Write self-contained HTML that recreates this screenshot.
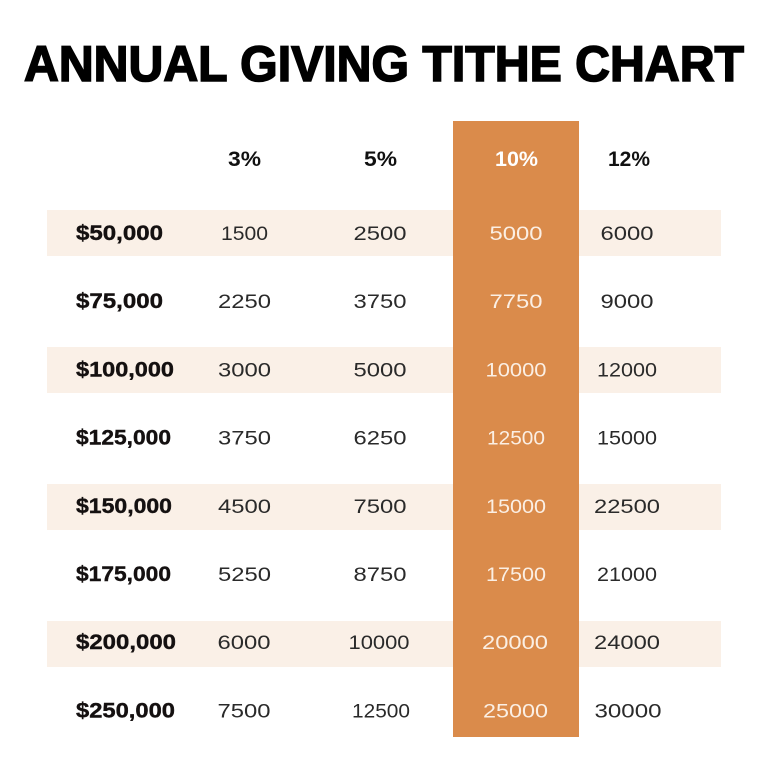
<!DOCTYPE html>
<html><head><meta charset="utf-8"><style>
html,body{margin:0;padding:0;background:#fff;}
svg{display:block;}
</style></head><body>
<svg width="768" height="768" viewBox="0 0 768 768" xmlns="http://www.w3.org/2000/svg">
<rect width="768" height="768" fill="#ffffff"/>
<text x="24" y="81" font-family="Liberation Sans, sans-serif" font-weight="bold" font-size="50" fill="#000" stroke="#000" stroke-width="1.6" textLength="720" lengthAdjust="spacingAndGlyphs">ANNUAL GIVING TITHE CHART</text>
<g fill="#FAF0E7">
<rect x="47" y="210" width="674" height="46"/>
<rect x="47" y="347" width="674" height="46"/>
<rect x="47" y="484" width="674" height="46"/>
<rect x="47" y="621" width="674" height="46"/>
</g>
<rect x="453" y="121" width="126" height="616" fill="#DA8B4B"/>
<g font-family="Liberation Sans, sans-serif" font-weight="bold" font-size="21.5" text-anchor="middle">
<text x="244.5" y="166" fill="#111" textLength="33" lengthAdjust="spacingAndGlyphs">3%</text>
<text x="380.5" y="166" fill="#111" textLength="33" lengthAdjust="spacingAndGlyphs">5%</text>
<text x="516.5" y="166" fill="#fff" textLength="43" lengthAdjust="spacingAndGlyphs">10%</text>
<text x="629" y="166" fill="#111" textLength="42" lengthAdjust="spacingAndGlyphs">12%</text>
</g>
<g font-family="Liberation Sans, sans-serif" font-weight="bold" font-size="21.5" fill="#141010" stroke="#141010" stroke-width="0.4">
<text x="76" y="240" textLength="87" lengthAdjust="spacingAndGlyphs">$50,000</text>
<text x="76" y="308.2" textLength="87" lengthAdjust="spacingAndGlyphs">$75,000</text>
<text x="76" y="376.4" textLength="98" lengthAdjust="spacingAndGlyphs">$100,000</text>
<text x="76" y="444.6" textLength="95" lengthAdjust="spacingAndGlyphs">$125,000</text>
<text x="76" y="512.8" textLength="96" lengthAdjust="spacingAndGlyphs">$150,000</text>
<text x="76" y="581" textLength="95" lengthAdjust="spacingAndGlyphs">$175,000</text>
<text x="76" y="649.2" textLength="100" lengthAdjust="spacingAndGlyphs">$200,000</text>
<text x="76" y="717.4" textLength="99" lengthAdjust="spacingAndGlyphs">$250,000</text>
</g>
<g font-family="Liberation Sans, sans-serif" font-size="19.5" fill="#2a2a2a" text-anchor="middle">
<text x="244.5" y="240" textLength="47" lengthAdjust="spacingAndGlyphs">1500</text>
<text x="380" y="240" textLength="53" lengthAdjust="spacingAndGlyphs">2500</text>
<text x="627" y="240" textLength="53" lengthAdjust="spacingAndGlyphs">6000</text>
<text x="244.5" y="308.2" textLength="53" lengthAdjust="spacingAndGlyphs">2250</text>
<text x="380" y="308.2" textLength="53" lengthAdjust="spacingAndGlyphs">3750</text>
<text x="627" y="308.2" textLength="53" lengthAdjust="spacingAndGlyphs">9000</text>
<text x="244.5" y="376.4" textLength="53" lengthAdjust="spacingAndGlyphs">3000</text>
<text x="380" y="376.4" textLength="53" lengthAdjust="spacingAndGlyphs">5000</text>
<text x="627" y="376.4" textLength="60" lengthAdjust="spacingAndGlyphs">12000</text>
<text x="244.5" y="444.6" textLength="53" lengthAdjust="spacingAndGlyphs">3750</text>
<text x="380" y="444.6" textLength="53" lengthAdjust="spacingAndGlyphs">6250</text>
<text x="627" y="444.6" textLength="60" lengthAdjust="spacingAndGlyphs">15000</text>
<text x="244.5" y="512.8" textLength="53" lengthAdjust="spacingAndGlyphs">4500</text>
<text x="380" y="512.8" textLength="53" lengthAdjust="spacingAndGlyphs">7500</text>
<text x="627" y="512.8" textLength="66" lengthAdjust="spacingAndGlyphs">22500</text>
<text x="244.5" y="581" textLength="53" lengthAdjust="spacingAndGlyphs">5250</text>
<text x="380" y="581" textLength="53" lengthAdjust="spacingAndGlyphs">8750</text>
<text x="627" y="581" textLength="60" lengthAdjust="spacingAndGlyphs">21000</text>
<text x="244" y="649.2" textLength="53" lengthAdjust="spacingAndGlyphs">6000</text>
<text x="379" y="649.2" textLength="61" lengthAdjust="spacingAndGlyphs">10000</text>
<text x="627" y="649.2" textLength="66" lengthAdjust="spacingAndGlyphs">24000</text>
<text x="244" y="717.4" textLength="53" lengthAdjust="spacingAndGlyphs">7500</text>
<text x="381" y="717.4" textLength="58" lengthAdjust="spacingAndGlyphs">12500</text>
<text x="628" y="717.4" textLength="67" lengthAdjust="spacingAndGlyphs">30000</text>
</g>
<g font-family="Liberation Sans, sans-serif" font-size="19.5" fill="#FBEFE4" text-anchor="middle">
<text x="516" y="240" textLength="53" lengthAdjust="spacingAndGlyphs">5000</text>
<text x="516" y="308.2" textLength="53" lengthAdjust="spacingAndGlyphs">7750</text>
<text x="516" y="376.4" textLength="61" lengthAdjust="spacingAndGlyphs">10000</text>
<text x="516" y="444.6" textLength="58" lengthAdjust="spacingAndGlyphs">12500</text>
<text x="516" y="512.8" textLength="60" lengthAdjust="spacingAndGlyphs">15000</text>
<text x="516" y="581" textLength="60" lengthAdjust="spacingAndGlyphs">17500</text>
<text x="515" y="649.2" textLength="66" lengthAdjust="spacingAndGlyphs">20000</text>
<text x="515.5" y="717.4" textLength="65" lengthAdjust="spacingAndGlyphs">25000</text>
</g>
</svg>
</body></html>
